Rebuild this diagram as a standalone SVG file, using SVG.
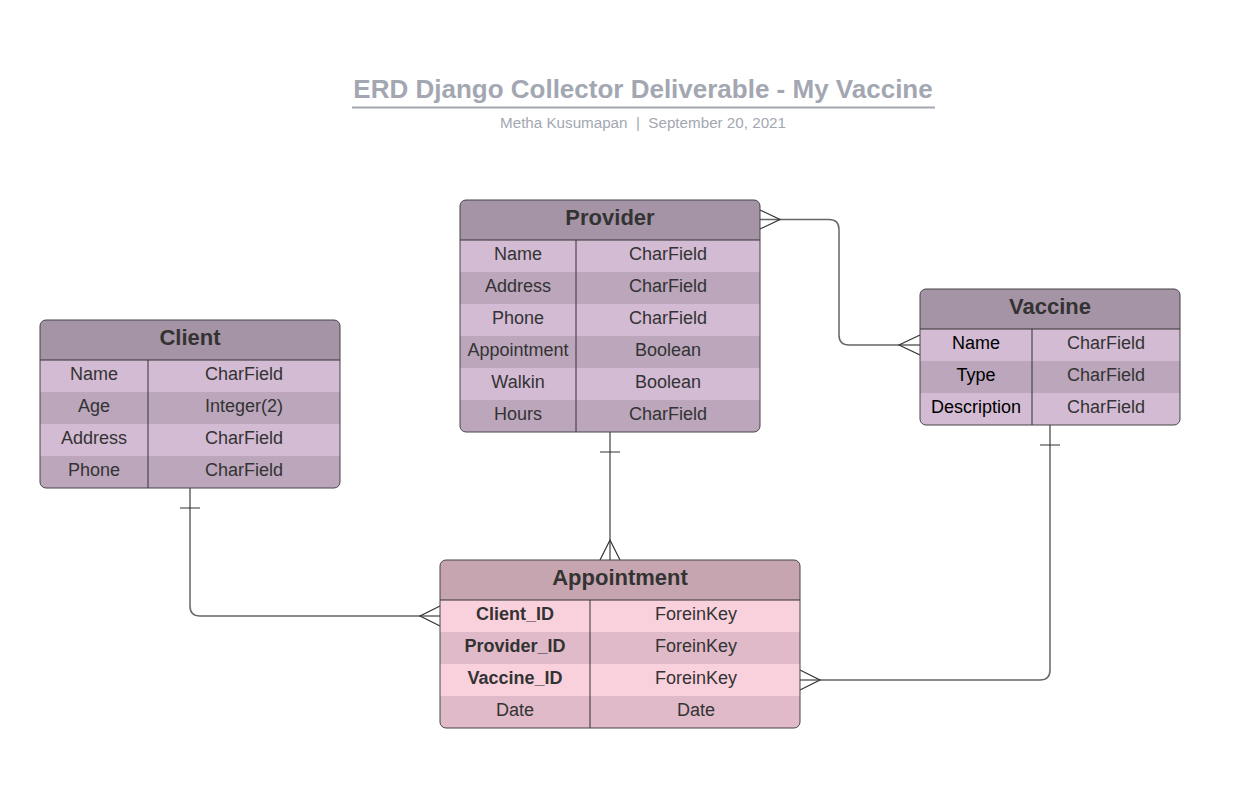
<svg xmlns="http://www.w3.org/2000/svg" width="1241" height="787" viewBox="0 0 1241 787">
<style>
text{font-family:"Liberation Sans",Arial,sans-serif;text-anchor:middle;}
.hd{font-size:22px;font-weight:bold;fill:#333;}
.f{font-size:18px;fill:#333;}
.fb{font-size:18px;fill:#333;font-weight:bold;}
.fk{font-size:18px;fill:#000;}
.ph{fill:#a594a5;}
.l1{fill:#d3bbd3;}
.l2{fill:#bba6bb;}
.ah{fill:#c7a5b0;}
.a1{fill:#f9d1dd;}
.a2{fill:#e0bac8;}
.bd{fill:none;stroke:#444;stroke-width:1;}
.dv{stroke:#333;stroke-width:1;}
.cn{fill:none;stroke:#666;stroke-width:1.5;}
.cf{fill:none;stroke:#333;stroke-width:1.2;}
</style>
<defs>
<clipPath id="cP"><rect x="460" y="200" width="300" height="232" rx="6"/></clipPath>
<clipPath id="cC"><rect x="40" y="320" width="300" height="168" rx="6"/></clipPath>
<clipPath id="cV"><rect x="920" y="289" width="260" height="136" rx="6"/></clipPath>
<clipPath id="cA"><rect x="440" y="560" width="360" height="168" rx="6"/></clipPath>
</defs>
<rect width="1241" height="787" fill="#fff"/>
<g id="title">
<text x="643" y="98" style="font-size:26px;font-weight:bold;fill:#a3a7b2;">ERD Django Collector Deliverable - My Vaccine</text>
<line x1="352" y1="107.5" x2="935" y2="107.5" stroke="#a3a7b2" stroke-width="2"/>
<text x="643" y="128" xml:space="preserve" style="font-size:15.2px;fill:#a3a7b2;white-space:pre;">Metha Kusumapan  |  September 20, 2021</text>
</g>
<g id="connectors">
<path class="cn" d="M760 219.5 H829 Q839 219.5 839 229.5 V335 Q839 345 849 345 H920"/>
<path class="cf" d="M760 210 L780 219.5 L760 229 M920 335 L899 345 L920 355"/>
<path class="cn" d="M190 488 V606 Q190 616 200 616 H440"/>
<path class="cf" d="M180 508 H200 M440 606 L420 616 L440 626"/>
<path class="cn" d="M610 432 V560"/>
<path class="cf" d="M600 452 H620 M600 560 L610 540 L620 560"/>
<path class="cn" d="M1050 425 V670 Q1050 680 1040 680 H800"/>
<path class="cf" d="M1040 445 H1060 M800 670 L820 680 L800 690"/>
</g>
<g id="provider">
<g clip-path="url(#cP)">
<rect class="ph" x="460" y="200" width="300" height="40"/>
<rect class="l1" x="460" y="240" width="300" height="32"/>
<rect class="l2" x="460" y="272" width="300" height="32"/>
<rect class="l1" x="460" y="304" width="300" height="32"/>
<rect class="l2" x="460" y="336" width="300" height="32"/>
<rect class="l1" x="460" y="368" width="300" height="32"/>
<rect class="l2" x="460" y="400" width="300" height="32"/>
</g>
<line class="dv" x1="460" y1="240" x2="760" y2="240"/>
<line class="dv" x1="576" y1="240" x2="576" y2="432"/>
<rect class="bd" x="460" y="200" width="300" height="232" rx="6"/>
<text class="hd" x="610" y="225">Provider</text>
<text class="f" x="518" y="260">Name</text><text class="f" x="668" y="260">CharField</text>
<text class="f" x="518" y="292">Address</text><text class="f" x="668" y="292">CharField</text>
<text class="f" x="518" y="324">Phone</text><text class="f" x="668" y="324">CharField</text>
<text class="f" x="518" y="356">Appointment</text><text class="f" x="668" y="356">Boolean</text>
<text class="f" x="518" y="388">Walkin</text><text class="f" x="668" y="388">Boolean</text>
<text class="f" x="518" y="420">Hours</text><text class="f" x="668" y="420">CharField</text>
</g>
<g id="client">
<g clip-path="url(#cC)">
<rect class="ph" x="40" y="320" width="300" height="40"/>
<rect class="l1" x="40" y="360" width="300" height="32"/>
<rect class="l2" x="40" y="392" width="300" height="32"/>
<rect class="l1" x="40" y="424" width="300" height="32"/>
<rect class="l2" x="40" y="456" width="300" height="32"/>
</g>
<line class="dv" x1="40" y1="360" x2="340" y2="360"/>
<line class="dv" x1="148" y1="360" x2="148" y2="488"/>
<rect class="bd" x="40" y="320" width="300" height="168" rx="6"/>
<text class="hd" x="190" y="345">Client</text>
<text class="f" x="94" y="380">Name</text><text class="f" x="244" y="380">CharField</text>
<text class="f" x="94" y="412">Age</text><text class="f" x="244" y="412">Integer(2)</text>
<text class="f" x="94" y="444">Address</text><text class="f" x="244" y="444">CharField</text>
<text class="f" x="94" y="476">Phone</text><text class="f" x="244" y="476">CharField</text>
</g>
<g id="vaccine">
<g clip-path="url(#cV)">
<rect class="ph" x="920" y="289" width="260" height="40"/>
<rect class="l1" x="920" y="329" width="260" height="32"/>
<rect class="l2" x="920" y="361" width="260" height="32"/>
<rect class="l1" x="920" y="393" width="260" height="32"/>
</g>
<line class="dv" x1="920" y1="329" x2="1180" y2="329"/>
<line class="dv" x1="1032" y1="329" x2="1032" y2="425"/>
<rect class="bd" x="920" y="289" width="260" height="136" rx="6"/>
<text class="hd" x="1050" y="314">Vaccine</text>
<text class="fk" x="976" y="349">Name</text><text class="f" x="1106" y="349">CharField</text>
<text class="fk" x="976" y="381">Type</text><text class="f" x="1106" y="381">CharField</text>
<text class="fk" x="976" y="413">Description</text><text class="f" x="1106" y="413">CharField</text>
</g>
<g id="appointment">
<g clip-path="url(#cA)">
<rect class="ah" x="440" y="560" width="360" height="40"/>
<rect class="a1" x="440" y="600" width="360" height="32"/>
<rect class="a2" x="440" y="632" width="360" height="32"/>
<rect class="a1" x="440" y="664" width="360" height="32"/>
<rect class="a2" x="440" y="696" width="360" height="32"/>
</g>
<line class="dv" x1="440" y1="600" x2="800" y2="600"/>
<line class="dv" x1="590" y1="600" x2="590" y2="728"/>
<rect class="bd" x="440" y="560" width="360" height="168" rx="6"/>
<text class="hd" x="620" y="585">Appointment</text>
<text class="fb" x="515" y="620">Client_ID</text><text class="f" x="696" y="620">ForeinKey</text>
<text class="fb" x="515" y="652">Provider_ID</text><text class="f" x="696" y="652">ForeinKey</text>
<text class="fb" x="515" y="684">Vaccine_ID</text><text class="f" x="696" y="684">ForeinKey</text>
<text class="f" x="515" y="716">Date</text><text class="f" x="696" y="716">Date</text>
</g>
</svg>
